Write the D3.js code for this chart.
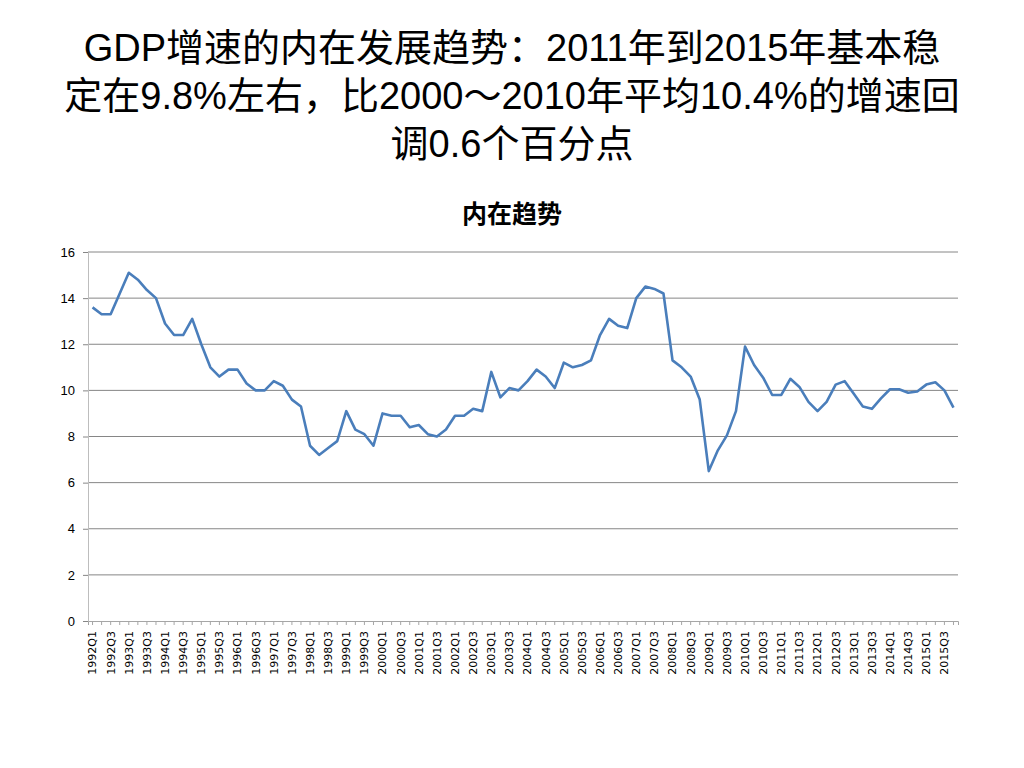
<!DOCTYPE html>
<html><head><meta charset="utf-8">
<script src="https://cdn.jsdelivr.net/npm/d3@7"></script>
<style>body{margin:0;background:#fff;}svg{display:block;}</style>
</head><body>
<svg id="c" width="1024" height="768"></svg>
<script>
const titleLines = ["GDP增速的内在发展趋势：2011年到2015年基本稳","定在9.8%左右，比2000～2010年平均10.4%的增速回","调0.6个百分点"];
const chartTitle = "内在趋势";
const years = d3.range(1992, 2016);
const quarters = years.flatMap(y => ["Q1","Q2","Q3","Q4"].map(q => y + q));
const values = [
 13.6,13.3,13.3,14.2, 15.1,14.8,14.35,14.0, 12.9,12.4,12.4,13.1, 12.0,11.0,10.6,10.9,
 10.9,10.3,10.0,10.0, 10.4,10.2,9.6,9.3, 7.6,7.2,7.5,7.8, 9.1,8.3,8.1,7.6,
 9.0,8.9,8.9,8.4, 8.5,8.1,8.0,8.3, 8.9,8.9,9.2,9.1, 10.8,9.7,10.1,10.0,
 10.4,10.9,10.6,10.1, 11.2,11.0,11.1,11.3, 12.4,13.1,12.8,12.7, 14.0,14.5,14.4,14.2,
 11.3,11.0,10.6,9.6, 6.5,7.4,8.05,9.1, 11.9,11.1,10.55,9.8, 9.8,10.5,10.15,9.5,
 9.1,9.5,10.25,10.4, 9.85,9.3,9.2,9.65, 10.05,10.05,9.9,9.95, 10.25,10.35,10.0,9.25
];
const yTicks = [0,2,4,6,8,10,12,14,16];
const labelQuarters = quarters.filter((q,i) => i % 2 === 0);

(function(){
const svg = d3.select("#c");
const pl = 88, pr = 958, pt = 252, pb = 621;

svg.append("g").selectAll("text").data(titleLines).join("text")
  .attr("x", 512).attr("y", (d,i) => 61 + i*48)
  .attr("text-anchor","middle")
  .attr("font-family","'Liberation Sans', 'Noto Sans CJK SC', sans-serif")
  .attr("font-size", 38).attr("fill","#000")
  .text(d => d);

svg.append("text").attr("x", 512).attr("y", 223).attr("text-anchor","middle")
  .attr("font-family","'Noto Sans CJK SC', sans-serif").attr("font-weight","bold")
  .attr("font-size", 25).text(chartTitle);

const x = d3.scaleBand().domain(quarters).range([pl, pr]);
const y = d3.scaleLinear().domain([0,16]).range([pb, pt]);

svg.append("g").selectAll("line").data(yTicks.filter(t=>t>0)).join("line")
  .attr("x1", pl).attr("x2", pr).attr("y1", d=>y(d)).attr("y2", d=>y(d))
  .attr("stroke","#868686").attr("stroke-width",1);

const yAxis = svg.append("g").attr("transform",`translate(${pl},0)`)
  .call(d3.axisLeft(y).tickValues(yTicks).tickSize(5).tickPadding(8));
yAxis.select(".domain").attr("stroke","#bdbdbd");
yAxis.selectAll(".tick line").attr("stroke","#868686");
yAxis.selectAll("text").attr("font-family","'Liberation Sans', Arial, sans-serif").attr("font-size",13).attr("fill","#000");

const xAxis = svg.append("g").attr("transform",`translate(0,${pb})`)
  .call(d3.axisBottom(x).tickValues(quarters).tickSize(4).tickFormat(d => labelQuarters.includes(d) ? d : ""));
xAxis.select(".domain").attr("stroke","#a6a6a6");
xAxis.selectAll(".tick line").attr("stroke","#a6a6a6");
xAxis.selectAll("text")
  .attr("font-family","'DejaVu Sans', sans-serif").attr("font-size",11).attr("fill","#000")
  .attr("transform","rotate(-90)").attr("text-anchor","end")
  .attr("x",-10).attr("y",0).attr("dy","0.35em");

const line = d3.line().x((d,i) => x(quarters[i]) + x.bandwidth()/2).y(d => y(d));
svg.append("path").datum(values).attr("d", line)
  .attr("fill","none").attr("stroke","#4a7ebb").attr("stroke-width",2.6)
  .attr("stroke-linejoin","round");
})();
</script>
</body></html>
